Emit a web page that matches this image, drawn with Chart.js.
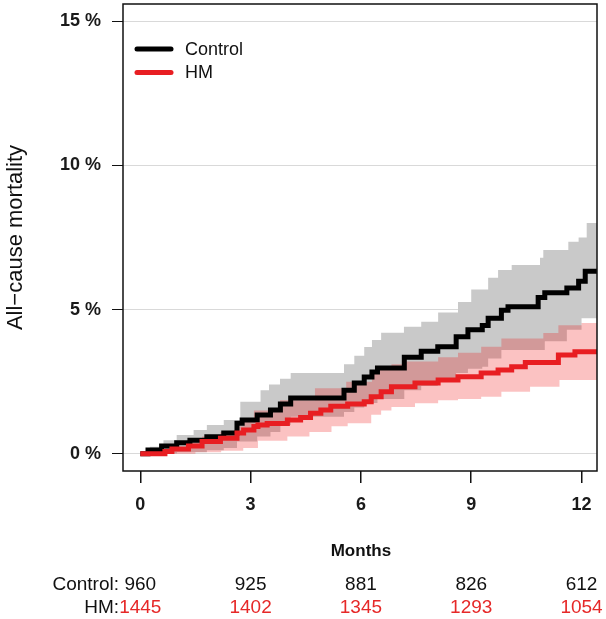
<!DOCTYPE html>
<html>
<head>
<meta charset="utf-8">
<script src="https://cdn.jsdelivr.net/npm/chart.js@4.4.0/dist/chart.umd.min.js"></script>
<style>
  html, body { margin: 0; padding: 0; background: #fff; }
  #wrap { width: 606px; height: 619px; position: relative; }
</style>
</head>
<body>
<div id="wrap"><canvas id="kmChart"></canvas></div>
<script>
const FONT = '"Liberation Sans", Arial, Helvetica, sans-serif';

// Control group: cumulative all-cause mortality (%) by month
const ctrlTimes = [0, 0.21, 0.58, 0.99, 1.35, 1.81, 2.27, 2.63, 2.77, 3.18, 3.54, 3.81, 4.09, 5.54, 5.82, 6.09, 6.30, 6.45, 7.18, 7.64, 8.09, 8.59, 8.91, 9.30, 9.46, 9.82, 10.00, 10.82, 11.00, 11.60, 11.92, 12.10, 12.42];
const ctrlEst   = [0, 0.13, 0.27, 0.38, 0.47, 0.59, 0.72, 1.06, 1.17, 1.34, 1.52, 1.72, 1.93, 2.20, 2.45, 2.66, 2.83, 2.97, 3.35, 3.55, 3.71, 4.06, 4.30, 4.45, 4.70, 4.98, 5.10, 5.42, 5.58, 5.75, 5.98, 6.33, 6.33];

const ctrlLoTimes = [0, 1.00, 1.81, 2.27, 2.63, 3.18, 3.54, 3.81, 4.09, 5.54, 5.82, 6.09, 6.45, 7.18, 7.64, 8.09, 8.59, 8.91, 9.30, 9.46, 9.82, 11.00, 11.60, 12.00, 12.42];
const ctrlLo      = [0, 0.05, 0.12, 0.20, 0.42, 0.60, 0.75, 1.00, 1.28, 1.45, 1.60, 1.76, 1.90, 2.20, 2.35, 2.50, 2.80, 2.95, 3.02, 3.30, 3.60, 3.90, 4.30, 4.70, 4.70];

const ctrlHiTimes = [0, 0.26, 0.63, 0.99, 1.45, 1.81, 2.27, 2.72, 3.27, 3.50, 3.80, 4.09, 5.54, 5.82, 6.09, 6.30, 6.55, 7.17, 7.64, 8.10, 8.64, 9.00, 9.46, 9.73, 10.10, 10.87, 10.96, 11.64, 11.92, 12.14, 12.42];
const ctrlHi      = [0, 0.24, 0.47, 0.65, 0.82, 1.00, 1.17, 1.80, 2.20, 2.40, 2.60, 2.80, 3.10, 3.40, 3.70, 3.94, 4.20, 4.40, 4.58, 4.90, 5.26, 5.70, 6.10, 6.37, 6.55, 6.80, 7.07, 7.35, 7.50, 8.00, 8.00];

// HM group
const hmTimes = [0, 0.67, 0.86, 1.31, 1.68, 2.18, 2.63, 2.81, 3.09, 3.20, 3.45, 4.00, 4.36, 4.63, 4.91, 5.18, 5.64, 6.09, 6.28, 6.55, 6.83, 7.47, 8.10, 8.64, 9.27, 9.73, 10.10, 10.47, 11.37, 11.82, 12.42];
const hmEst   = [0, 0.08, 0.16, 0.27, 0.42, 0.54, 0.72, 0.82, 0.94, 1.00, 1.05, 1.17, 1.26, 1.40, 1.52, 1.65, 1.72, 1.80, 1.98, 2.15, 2.32, 2.45, 2.56, 2.67, 2.80, 2.90, 3.02, 3.16, 3.42, 3.54, 3.54];

const hmLoTimes = [0, 1.50, 2.20, 2.80, 3.20, 4.00, 4.60, 5.20, 5.64, 6.28, 6.55, 6.83, 7.47, 8.10, 8.64, 9.27, 9.82, 10.60, 11.40, 12.42];
const hmLo      = [0, 0.05, 0.10, 0.20, 0.45, 0.60, 0.75, 0.95, 1.06, 1.35, 1.50, 1.62, 1.75, 1.85, 1.90, 1.98, 2.15, 2.32, 2.56, 2.56];

const hmHiTimes = [0, 0.67, 1.31, 1.68, 2.18, 2.63, 2.81, 3.09, 3.80, 4.75, 5.60, 6.30, 6.83, 7.20, 8.10, 8.64, 9.27, 9.82, 10.96, 11.37, 12.00, 12.42];
const hmHi      = [0, 0.20, 0.40, 0.60, 0.75, 0.95, 1.10, 1.50, 1.85, 2.27, 2.50, 2.90, 3.10, 3.20, 3.35, 3.50, 3.71, 4.00, 4.19, 4.46, 4.53, 4.53];

// numbers at risk
const riskTimes = [0, 3, 6, 9, 12];
const riskControl = [960, 925, 881, 826, 612];
const riskHM = [1445, 1402, 1345, 1293, 1054];

const xTicks = [0, 3, 6, 9, 12];
const yTicks = [0, 5, 10, 15];

const RED = 'rgb(232, 30, 34)';
const RED_TXT = 'rgb(230, 40, 40)';

const pts = (t, v) => t.map((x, i) => ({ x: x, y: v[i] }));

function stepLine(data, color, order) {
    return {
        data: data, borderColor: color, borderWidth: 5, pointRadius: 0,
        stepped: 'before', fill: false, order: order, borderCapStyle: 'butt'
    };
}

function bandEdge(data, fill, bg, order) {
    return {
        data: data, borderWidth: 0, borderColor: 'rgba(0,0,0,0)', backgroundColor: bg,
        pointRadius: 0, stepped: 'before', fill: fill, order: order
    };
}

// frame around plot
const frameBox = {
    id: 'frameBox',
    afterDatasetsDraw(chart) {
        const { ctx, chartArea: a } = chart;
        ctx.save();
        ctx.strokeStyle = '#111';
        ctx.lineWidth = 1.5;
        ctx.strokeRect(a.left, a.top, a.right - a.left, a.bottom - a.top);
        ctx.restore();
    }
};

// legend in the top-left corner of the plot
const insideLegend = {
    id: 'insideLegend',
    afterDatasetsDraw(chart) {
        const { ctx, chartArea: a } = chart;
        const items = [['Control', '#000'], ['HM', RED]];
        ctx.save();
        ctx.font = '18px ' + FONT;
        ctx.textBaseline = 'middle';
        items.forEach((it, i) => {
            const y = a.top + 45 + i * 23.5;
            ctx.strokeStyle = it[1];
            ctx.lineWidth = 5;
            ctx.lineCap = 'round';
            ctx.beginPath();
            ctx.moveTo(a.left + 14, y);
            ctx.lineTo(a.left + 48, y);
            ctx.stroke();
            ctx.fillStyle = '#111';
            ctx.fillText(it[0], a.left + 62, y + 1);
        });
        ctx.restore();
    }
};

// "Months" and numbers at risk below the axis
const riskTable = {
    id: 'riskTable',
    afterDraw(chart) {
        const { ctx, chartArea: a } = chart;
        const xs = chart.scales.x;
        ctx.save();
        ctx.textBaseline = 'middle';
        ctx.textAlign = 'center';
        ctx.fillStyle = '#111';
        ctx.font = 'bold 17px ' + FONT;
        ctx.fillText('Months', (xs.getPixelForValue(0) + xs.getPixelForValue(12)) / 2, 551);

        ctx.font = '19px ' + FONT;
        ctx.textAlign = 'right';
        ctx.fillText('Control:', a.left - 4, 585);
        ctx.fillText('HM:', a.left - 4, 608);
        ctx.textAlign = 'center';
        riskTimes.forEach((t, i) => {
            const px = xs.getPixelForValue(t);
            ctx.fillStyle = '#111';
            ctx.fillText(String(riskControl[i]), px, 585);
            ctx.fillStyle = RED_TXT;
            ctx.fillText(String(riskHM[i]), px, 608);
        });
        ctx.restore();
    }
};

const noPad = (s) => { s.paddingTop = 0; s.paddingBottom = 0; s.paddingLeft = 0; s.paddingRight = 0; };

new Chart(document.getElementById('kmChart'), {
    type: 'line',
    data: {
        datasets: [
            bandEdge(pts(ctrlLoTimes, ctrlLo), false, 'rgba(0,0,0,0)', 4),
            bandEdge(pts(ctrlHiTimes, ctrlHi), '-1', 'rgb(201, 201, 201)', 4),
            bandEdge(pts(hmLoTimes, hmLo), false, 'rgba(0,0,0,0)', 3),
            bandEdge(pts(hmHiTimes, hmHi), '-1', 'rgba(238, 0, 0, 0.24)', 3),
            stepLine(pts(ctrlTimes, ctrlEst), '#000', 2),
            stepLine(pts(hmTimes, hmEst), RED, 1)
        ]
    },
    options: {
        responsive: true,
        maintainAspectRatio: false,
        animation: false,
        devicePixelRatio: 1,
        layout: { padding: { top: 4, right: 9, left: 0, bottom: 0 } },
        plugins: {
            legend: { display: false },
            tooltip: { enabled: false },
            filler: { propagate: false }
        },
        scales: {
            x: {
                type: 'linear',
                min: -0.47,
                max: 12.42,
                afterBuildTicks: (s) => { s.ticks = xTicks.map(v => ({ value: v })); },
                afterFit: (s) => { s.height = 148; noPad(s); },
                border: { display: false },
                grid: { drawOnChartArea: false, drawTicks: true, tickLength: 12, color: '#111', tickColor: '#111', lineWidth: 1.5 },
                ticks: { color: '#1a1a1a', padding: 11, font: { family: FONT, size: 18, weight: 'bold' }, maxRotation: 0 }
            },
            y: {
                type: 'linear',
                min: -0.6,
                max: 15.6,
                afterBuildTicks: (s) => { s.ticks = yTicks.map(v => ({ value: v })); },
                afterFit: (s) => { s.width = 123; noPad(s); },
                border: { display: false },
                grid: { drawOnChartArea: true, drawTicks: true, tickLength: 11, color: '#d9d9d9', tickColor: '#111', lineWidth: 1 },
                ticks: {
                    color: '#1a1a1a', padding: 11,
                    font: { family: FONT, size: 18, weight: 'bold' },
                    callback: (v) => v + ' %'
                },
                title: {
                    display: true,
                    text: 'All\u2212cause mortality',
                    color: '#111',
                    font: { family: FONT, size: 22 },
                    padding: { top: 3, bottom: 0 }
                }
            }
        }
    },
    plugins: [frameBox, insideLegend, riskTable]
});
</script>
</body>
</html>
